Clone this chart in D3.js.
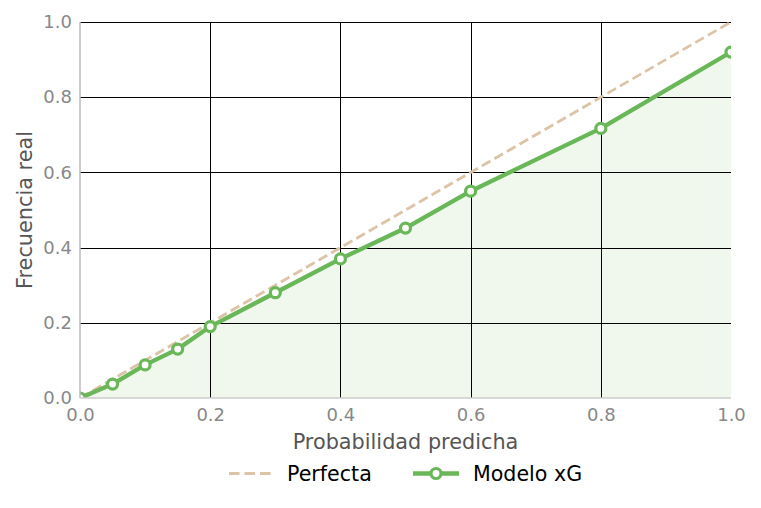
<!DOCTYPE html>
<html>
<head>
<meta charset="utf-8">
<script src="https://cdn.jsdelivr.net/npm/d3@7"></script>
<style>
  body { margin: 0; background: #fff; }
  svg { font-family: "DejaVu Sans", sans-serif; }
</style>
</head>
<body>
<svg id="chart" width="761" height="508"></svg>
<script>
// calibration data
var predicted = [0, 0.05, 0.1, 0.15, 0.2, 0.3, 0.4, 0.5, 0.6, 0.8, 1.0];
var observed = [0, 0.037, 0.088, 0.13, 0.19, 0.28, 0.37, 0.452, 0.55, 0.717, 0.92];
var perfect = [0, 1];
var ticks = [0, 0.2, 0.4, 0.6, 0.8, 1.0];

var green = "#6ab759", tan = "#dcc4a8";
var svg = d3.select("#chart");
var m = {left: 80, right: 30, top: 22, bottom: 110};
var W = 761, H = 508;
var x = d3.scaleLinear().domain([0, 1]).range([m.left, W - m.right]);
var y = d3.scaleLinear().domain([0, 1]).range([H - m.bottom, m.top]);

svg.append("clipPath").attr("id", "clip").append("rect")
    .attr("x", x(0)).attr("y", y(1)).attr("width", x(1) - x(0)).attr("height", y(0) - y(1));

var plot = svg.append("g").attr("clip-path", "url(#clip)");

// fill under model curve
plot.append("path").datum(predicted)
    .attr("d", d3.area().x(function (d) { return x(d); }).y0(y(0))
        .y1(function (d, i) { return y(observed[i]); }))
    .attr("fill", green).attr("fill-opacity", 0.1);

// grid
plot.selectAll(".hg").data(ticks.slice(1)).enter().append("line")
    .attr("x1", x(0)).attr("x2", x(1))
    .attr("y1", function (d) { return Math.round(y(d)) + 0.5; })
    .attr("y2", function (d) { return Math.round(y(d)) + 0.5; })
    .attr("stroke", "#000").attr("stroke-width", 1);
plot.selectAll(".vg").data(ticks.slice(1, 5)).enter().append("line")
    .attr("y1", y(0)).attr("y2", y(1))
    .attr("x1", function (d) { return Math.round(x(d)) + 0.5; })
    .attr("x2", function (d) { return Math.round(x(d)) + 0.5; })
    .attr("stroke", "#000").attr("stroke-width", 1);

// perfect diagonal
plot.append("path").datum(perfect)
    .attr("d", d3.line().x(function (d) { return x(d); }).y(function (d) { return y(d); }))
    .attr("fill", "none").attr("stroke", tan).attr("stroke-width", 2.8)
    .attr("stroke-dasharray", "10,4.5");

// model line
plot.append("path").datum(predicted)
    .attr("d", d3.line().x(function (d) { return x(d); }).y(function (d, i) { return y(observed[i]); }))
    .attr("fill", "none").attr("stroke", green).attr("stroke-width", 4.3)
    .attr("stroke-linejoin", "round");

plot.selectAll("circle").data(predicted).enter().append("circle")
    .attr("cx", function (d) { return x(d); })
    .attr("cy", function (d, i) { return y(observed[i]); })
    .attr("r", 5).attr("fill", "#fff").attr("stroke", green).attr("stroke-width", 3.2);

// spines
svg.append("line").attr("x1", x(0)).attr("x2", x(0)).attr("y1", y(0)).attr("y2", y(1))
    .attr("stroke", "#bbb").attr("stroke-width", 1.5);
svg.append("line").attr("x1", x(0)).attr("x2", x(1)).attr("y1", y(0)).attr("y2", y(0))
    .attr("stroke", "#ccc").attr("stroke-width", 1.5);

// axes
var xAxis = svg.append("g").attr("transform", "translate(0," + y(0) + ")")
    .call(d3.axisBottom(x).tickValues(ticks).tickFormat(d3.format(".1f")).tickSize(0).tickPadding(10));
var yAxis = svg.append("g").attr("transform", "translate(" + x(0) + ",0)")
    .call(d3.axisLeft(y).tickValues(ticks).tickFormat(d3.format(".1f")).tickSize(0).tickPadding(8));
[xAxis, yAxis].forEach(function (a) {
    a.select(".domain").remove();
    a.selectAll("text").attr("fill", "#888").style("font-size", "18px")
        .style("font-family", "DejaVu Sans");
});

svg.append("text").attr("x", (x(0) + x(1)) / 2).attr("y", 449)
    .attr("text-anchor", "middle").attr("fill", "#555").style("font-size", "20.8px")
    .text("Probabilidad predicha");
svg.append("text").attr("transform", "translate(31.5," + ((y(0) + y(1)) / 2) + ") rotate(-90)")
    .attr("text-anchor", "middle").attr("fill", "#555").style("font-size", "20.8px")
    .text("Frecuencia real");

// legend
var lg = svg.append("g").attr("transform", "translate(0,473.5)");
lg.append("line").attr("x1", 229).attr("x2", 271).attr("y1", 0).attr("y2", 0)
    .attr("stroke", tan).attr("stroke-width", 2.8).attr("stroke-dasharray", "10.5,5");
lg.append("text").attr("x", 287).attr("y", 7.5).attr("fill", "#000").style("font-size", "20.6px").text("Perfecta");
lg.append("line").attr("x1", 413).attr("x2", 459).attr("y1", 0).attr("y2", 0)
    .attr("stroke", green).attr("stroke-width", 4.3);
lg.append("circle").attr("cx", 436).attr("cy", 0).attr("r", 5)
    .attr("fill", "#fff").attr("stroke", green).attr("stroke-width", 3.2);
lg.append("text").attr("x", 473).attr("y", 7.5).attr("fill", "#000").style("font-size", "20.6px").text("Modelo xG");
</script>
</body>
</html>
